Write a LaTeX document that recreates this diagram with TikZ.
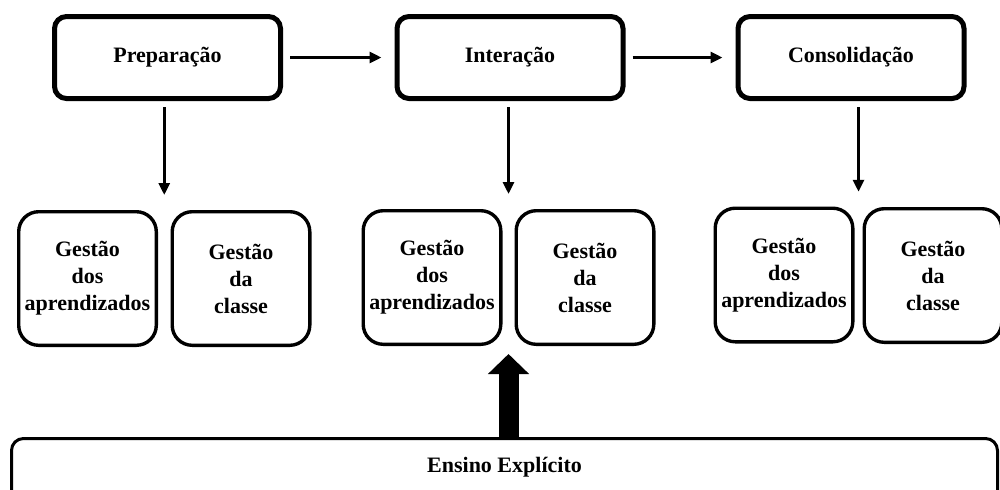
\documentclass[tikz,border=0pt]{standalone}
\usepackage{fontspec}
\setmainfont{Liberation Serif}
\usetikzlibrary{arrows.meta,calc}

\begin{document}
\begin{tikzpicture}[
            x=0.5pt, y=-0.5pt, % one unit is one pixel of the 1000x489 frame
            every node/.style={font=\fontsize{11}{13.5}\selectfont\bfseries, align=center},
            topbox/.style={draw, line width=2.5pt, rounded corners=6pt, minimum width=113pt, minimum height=41pt, inner sep=0pt},
            gestbox/.style={draw, line width=1.7pt, rounded corners=10pt, minimum width=68.8pt, minimum height=66.8pt, inner sep=0pt},
            ensbox/.style={draw, line width=1.5pt, rounded corners=6pt, anchor=north west, minimum width=493pt, text height=17pt, text depth=30pt, inner sep=0pt},
            arr/.style={line width=1.5pt, -{Triangle[length=6pt,width=5.5pt]}},
            bigarr/.style={line width=10pt, -{Triangle[length=10pt,width=20pt]}}
        ]

            % 1. Frame of the picture
            \useasboundingbox (0,0) rectangle (1000,489);
            \clip (0,0) rectangle (1000,489);

            % 2. The three phases
            \node[topbox] (prep) at (167.5,57.5) {Preparação};
            \node[topbox] (inter) at (510,57.5) {Interação};
            \node[topbox] (cons) at (851,57.5) {Consolidação};

            % 3. Management boxes under each phase
            \node[gestbox] (ga1) at (87.5,278.5) {Gestão\\dos\\aprendizados};
            \node[gestbox] (gc1) at (241,278.5) {Gestão\\da\\classe};
            \node[gestbox] (ga2) at (432,277.5) {Gestão\\dos\\aprendizados};
            \node[gestbox] (gc2) at (585,277.5) {Gestão\\da\\classe};
            \node[gestbox] (ga3) at (784,275) {Gestão\\dos\\aprendizados};
            \node[gestbox] (gc3) at (933,275.5) {Gestão\\da\\classe};

            % gaps between the two boxes of a pair
            \coordinate (g1) at ($(ga1.north east)!0.5!(gc1.north west)$);
            \coordinate (g2) at ($(ga2.north east)!0.5!(gc2.north west)$);
            \coordinate (g3) at ($(ga3.north east)!0.5!(gc3.north west)$);
            \coordinate (g2b) at ($(ga2.south east)!0.5!(gc2.south west)$);

            % 4. Bottom box (runs off the frame)
            \node[ensbox] (ens) at (10,437) {Ensino Explícito};

            % 5. Arrows
            \draw[arr, shorten <=3.5pt, shorten >=6.5pt] (prep) -- (inter);
            \draw[arr, shorten <=3.5pt, shorten >=6.5pt] (inter) -- (cons);
            \draw[arr, shorten <=3pt, shorten >=7.5pt] (prep.south -| g1) -- (g1);
            \draw[arr, shorten <=3pt, shorten >=7.5pt] (inter.south -| g2) -- (g2);
            \draw[arr, shorten <=3pt, shorten >=7.5pt] (cons.south -| g3) -- (g3);
            \draw[bigarr, shorten >=4pt] (ens.north -| g2b) -- (g2b);

        \end{tikzpicture}
\end{document}
